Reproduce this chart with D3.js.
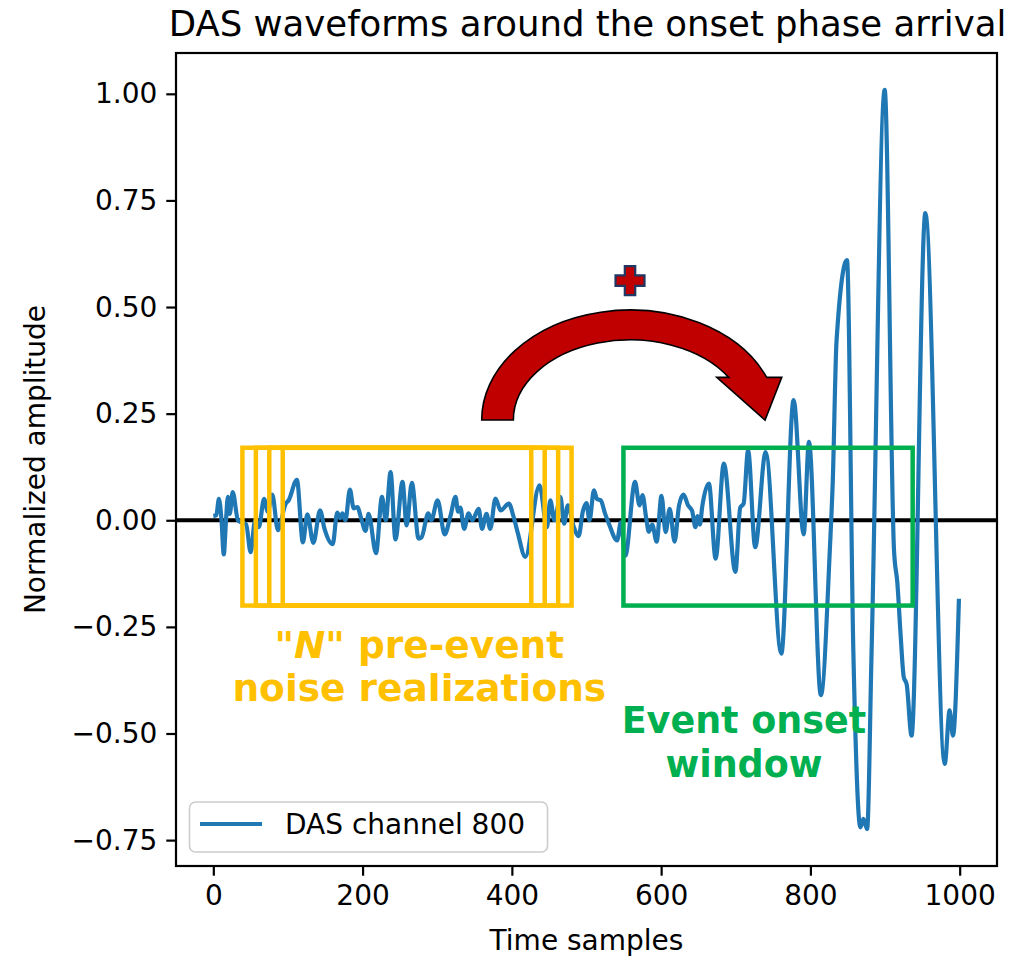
<!DOCTYPE html>
<html><head><meta charset="utf-8">
<script src="https://cdn.jsdelivr.net/npm/d3@7"></script>
<style>
body{margin:0;background:#fff;}
svg{display:block;font-family:"DejaVu Sans",sans-serif;}
</style>
</head><body>
<svg id="chart" width="1023" height="957"></svg>
<script>
// ---- data ----
const sampleIdx = [0,4,7.5,11,14,17,19.5,22,26,33,38,44,50,56,61,68,73,79,86.5,97,101,112,120,126,134,143,149,160,166,170,173,177,183,188,193,198,204,208,218,226,231,237.5,244,253.5,259,266,275,279,288,292,300.5,310,318,324.5,328,331,336,342,347,355.5,360,366,371,378,385,396,402,408,418,437,447,451.5,457,465,470,475,483,489.5,495,500,504,510,514,519,525,530,541,546,552,565,571,575,580,583.5,588,594,600.5,606,611.5,618,624,630,636,641.5,646,649,652,655,664,673,684,699.5,706,710.5,716.5,726,740,761,777.5,791,798,814,826,830,835,849,857.5,867,871,876,882,899.5,912,916.5,921,925,929,935.5,954,980,986.5,991,999];
const amplitude = [0.01,0.012,0.05,0.0,-0.08,0.0,0.055,0.015,0.066,0.0,-0.005,-0.01,-0.075,0.0,-0.016,0.05,0.02,0.06,-0.023,0.039,0.047,0.095,-0.052,0.014,-0.053,0.023,-0.02,-0.056,0.018,0.005,0.016,0.0,0.072,0.028,0.031,0.005,-0.025,0.015,-0.077,0.055,0.0,0.113,-0.045,0.09,-0.012,0.088,-0.043,-0.04,0.016,0.0,0.047,-0.033,0.012,0.055,0.02,0.03,-0.02,0.016,0.0,0.027,-0.02,0.015,-0.02,0.051,0.023,0.039,0.01,-0.03,-0.086,0.082,-0.016,0.047,0.0,0.055,-0.008,0.035,-0.016,-0.037,0.02,0.04,0.0,0.07,0.05,0.047,0.015,-0.008,-0.047,-0.005,-0.083,0.09,0.035,0.059,0.005,-0.027,-0.01,-0.05,0.057,-0.028,0.027,-0.05,0.035,0.06,0.035,0.022,-0.016,0.01,-0.01,0.031,0.086,-0.09,0.133,-0.121,0.03,0.039,0.164,-0.063,0.16,-0.313,0.282,-0.033,0.184,-0.41,-0.07,0.094,0.42,0.61,-0.305,-0.72,-0.70,-0.724,-0.305,1.009,-0.07,-0.147,-0.273,-0.367,-0.385,-0.505,0.72,-0.571,-0.446,-0.505,-0.184];
const xTicks = [0,200,400,600,800,1000];
const yTicks = [-0.75,-0.5,-0.25,0,0.25,0.5,0.75,1.0];
const seriesName = "DAS channel 800";
const titleText = "DAS waveforms around the onset phase arrival";
const xLabel = "Time samples";
const yLabel = "Normalized amplitude";
// annotation windows (data units)
const noiseStarts = [39,57,75,93];
const noiseWidth = 387;
const onsetWindow = [549.5, 937];
const windowRange = [-0.2, 0.17];
const noiseText = ["pre-event", "noise realizations"];
const onsetText = ["Event onset", "window"];

// ---- layout ----
const svg = d3.select("#chart");
const L = 176, R = 997, T = 53, B = 866;
const x = d3.scaleLinear().domain([-50, 1050]).range([L, R]);
const y = d3.scaleLinear().domain([-0.8107, 1.0957]).range([B, T]);
const blue = "#1f77b4", gold = "#FFC000", green = "#00B050", red = "#C00000";
const data = sampleIdx.map((s, i) => [s, amplitude[i]]);

svg.append("clipPath").attr("id","clip").append("rect")
  .attr("x", L).attr("y", T).attr("width", R-L).attr("height", B-T);

// zero line
svg.append("line").attr("x1", L).attr("x2", R).attr("y1", y(0)).attr("y2", y(0))
  .attr("stroke", "#000").attr("stroke-width", 4);

// waveform
const line = d3.line().x(d => x(d[0])).y(d => y(d[1])).curve(d3.curveMonotoneX);
svg.append("path").datum(data).attr("d", line).attr("fill","none")
  .attr("stroke", blue).attr("stroke-width", 4.2).attr("stroke-linejoin","round")
  .attr("clip-path","url(#clip)");

// axes
const xAxis = d3.axisBottom(x).tickValues(xTicks).tickSize(9.7).tickPadding(9).tickFormat(d3.format("d"));
const yAxis = d3.axisLeft(y).tickValues(yTicks).tickSize(9.7).tickPadding(9)
  .tickFormat(d => d3.format(".2f")(d).replace("-", "\u2212"));
const gx = svg.append("g").attr("transform", `translate(0,${B})`).call(xAxis);
const gy = svg.append("g").attr("transform", `translate(${L},0)`).call(yAxis);
[gx, gy].forEach(g => {
  g.select(".domain").remove();
  g.selectAll(".tick line").attr("stroke","#000").attr("stroke-width", 2.2);
  g.selectAll(".tick text").attr("fill","#000").style("font-size","28px").style("font-family","DejaVu Sans");
});

// spines
svg.append("rect").attr("x", L).attr("y", T).attr("width", R-L).attr("height", B-T)
  .attr("fill","none").attr("stroke","#000").attr("stroke-width", 2.2);

// labels
svg.append("text").attr("x", (L+R)/2 + 1).attr("y", 36).attr("text-anchor","middle")
  .style("font-size","35.5px").text(titleText);
svg.append("text").attr("x", (L+R)/2).attr("y", 950).attr("text-anchor","middle")
  .style("font-size","28px").text(xLabel);
svg.append("text").attr("transform", `translate(45,${(T+B)/2}) rotate(-90)`).attr("text-anchor","middle")
  .style("font-size","28px").text(yLabel);

// noise realization windows
noiseStarts.forEach(s => {
  svg.append("rect").attr("x", x(s)).attr("y", y(windowRange[1]))
    .attr("width", x(s + noiseWidth) - x(s)).attr("height", y(windowRange[0]) - y(windowRange[1]))
    .attr("fill","none").attr("stroke", gold).attr("stroke-width", 4.5);
});
// onset window
svg.append("rect").attr("x", x(onsetWindow[0])).attr("y", y(windowRange[1]))
  .attr("width", x(onsetWindow[1]) - x(onsetWindow[0])).attr("height", y(windowRange[0]) - y(windowRange[1]))
  .attr("fill","none").attr("stroke", green).attr("stroke-width", 4.5);

// annotation texts
const t1 = svg.append("text").attr("x", x(276)).attr("y", y(-0.322)).attr("text-anchor","middle")
  .attr("fill", gold).style("font-size","37.5px").style("font-weight","bold");
t1.append("tspan").text("\"");
t1.append("tspan").style("font-style","italic").text("N");
t1.append("tspan").text("\" " + noiseText[0]);
svg.append("text").attr("x", x(276)).attr("y", y(-0.423)).attr("text-anchor","middle")
  .attr("fill", gold).style("font-size","37.5px").style("font-weight","bold").text(noiseText[1]);
svg.append("text").attr("x", x(711)).attr("y", y(-0.500)).attr("text-anchor","middle")
  .attr("fill", green).style("font-size","36.5px").style("font-weight","bold").text(onsetText[0]);
svg.append("text").attr("x", x(711)).attr("y", y(-0.601)).attr("text-anchor","middle")
  .attr("fill", green).style("font-size","36.5px").style("font-weight","bold").text(onsetText[1]);

// curved arrow (data-anchored)
const cx = x(558.3), cy = y(0.235);
const oRx = cx - x(359.6), oRy = cy - y(0.493);
const iRx = cx - x(402), iRy = cy - y(0.423);
const hy = y(0.335);
const oEnd = cx + oRx * Math.sqrt(1 - Math.pow((cy - hy) / oRy, 2));
const iEnd = cx + iRx * Math.sqrt(1 - Math.pow((cy - hy) / iRy, 2));
const arrowPath = `M${cx - oRx},${cy} A${oRx},${oRy} 0 0 1 ${oEnd},${hy} L${x(761.6)},${hy} L${x(739.2)},${y(0.235)} L${x(674.5)},${hy} L${iEnd},${hy} A${iRx},${iRy} 0 0 0 ${cx - iRx},${cy} Z`;
svg.append("path").attr("d", arrowPath).attr("fill", red).attr("stroke","#000").attr("stroke-width", 1.6);

// plus sign
const px = x(558.3), py = y(0.562), a = 14.5, b = 5.2;
const plus = [[-b,-a],[b,-a],[b,-b],[a,-b],[a,b],[b,b],[b,a],[-b,a],[-b,b],[-a,b],[-a,-b],[-b,-b]];
svg.append("path").attr("d", "M" + plus.map(p => `${px+p[0]},${py+p[1]}`).join("L") + "Z")
  .attr("fill", red).attr("stroke", "#1F3864").attr("stroke-width", 2.2);

// legend
const lg = svg.append("g");
lg.append("rect").attr("x", 189.5).attr("y", 802).attr("width", 358).attr("height", 50).attr("rx", 6)
  .attr("fill","#fff").attr("fill-opacity",0.8).attr("stroke","#cccccc").attr("stroke-width",1.6);
lg.append("line").attr("x1", 200).attr("x2", 262).attr("y1", 824).attr("y2", 824)
  .attr("stroke", blue).attr("stroke-width", 4.2);
lg.append("text").attr("x", 285).attr("y", 834).style("font-size","28px").text(seriesName);
</script>
</body></html>
